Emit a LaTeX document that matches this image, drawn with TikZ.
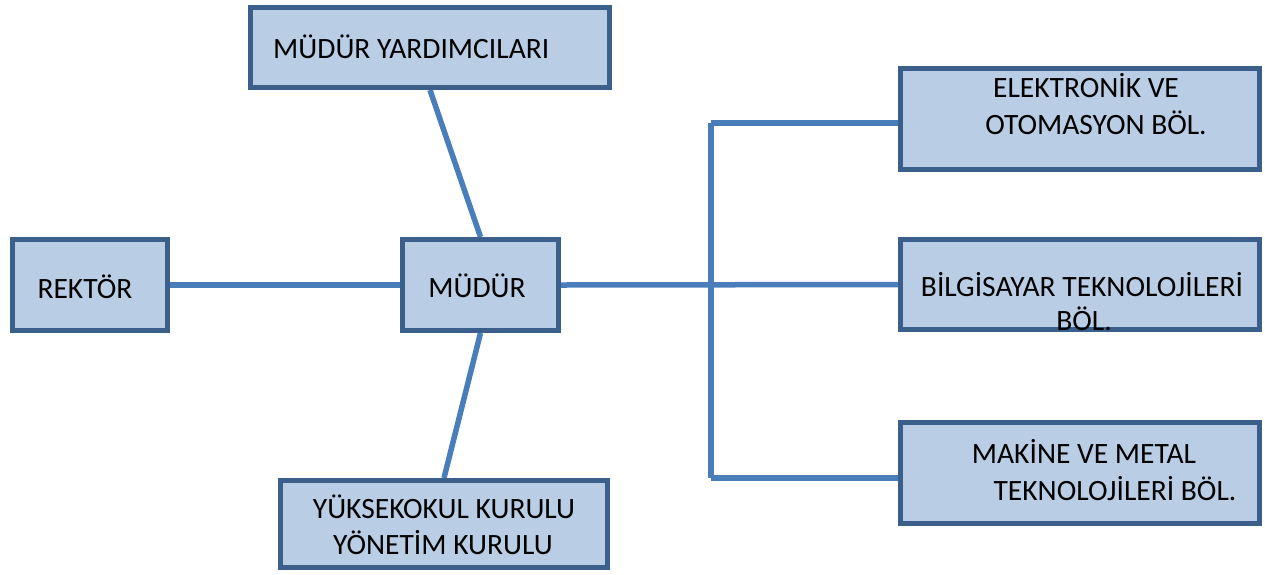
\documentclass[tikz,border=0pt]{standalone}
\usepackage{fontspec}
\setmainfont{Carlito}
\usetikzlibrary{backgrounds}
\definecolor{boxfill}{HTML}{B9CDE5}
\definecolor{boxline}{HTML}{3A5F8B}
\definecolor{conn}{HTML}{4A7EBB}
\begin{document}
\begin{tikzpicture}[x=1pt,y=-1pt,
  orgbox/.style={draw=boxline,fill=boxfill,line width=5pt,rectangle,inner sep=0pt},
  lbl/.style={inner sep=0pt,font=\fontsize{29.5}{35}\selectfont,anchor=base},
  link/.style={draw=conn,line width=5.5pt}]
\useasboundingbox (0,0) rectangle (1265,574);
% boxes
\node[orgbox,minimum width=359pt,minimum height=80pt] (my) at (430,47.5) {};
\node[orgbox,minimum width=155pt,minimum height=91pt] (rek) at (90,285) {};
\node[orgbox,minimum width=156pt,minimum height=91pt] (md) at (480.5,285) {};
\node[orgbox,minimum width=327pt,minimum height=87pt] (yk) at (444,524) {};
\node[orgbox,minimum width=359pt,minimum height=101pt] (el) at (1080,119) {};
\node[orgbox,minimum width=359pt,minimum height=90pt] (bi) at (1080,284.5) {};
\node[orgbox,minimum width=359pt,minimum height=101pt] (ma) at (1080,473) {};
% texts
\node[lbl,anchor=base west] (tmy) at (273,58) {MÜDÜR YARDIMCILARI};
\node[lbl] (trek) at (85,298) {REKTÖR};
\node[lbl] (tmd) at (477,297) {MÜDÜR};
\node[lbl] (tel1) at (1086,97) {ELEKTRONİK VE};
\node[lbl] (tel2) at (1096,134) {OTOMASYON BÖL.};
\node[lbl] (tbi1) at (1082,296) {BİLGİSAYAR TEKNOLOJİLERİ};
\node[lbl] (tbi2) at (1084,330) {BÖL.};
\node[lbl] (tma1) at (1084,463) {MAKİNE VE METAL};
\node[lbl] (tma2) at (1115,500) {TEKNOLOJİLERİ BÖL.};
\node[lbl] (tyk1) at (444,518) {YÜKSEKOKUL KURULU};
\node[lbl] (tyk2) at (443,554) {YÖNETİM KURULU};
% bus coordinates
\coordinate (bt) at (711,123);
\coordinate (bb) at (711,478);
\begin{pgfonlayer}{background}
\draw[link] (rek.east) -- (md.west);
\draw[link] (my.south) -- (md.north);
\draw[link] (md.south) -- (yk.north);
\draw[link] (md.east) -- (bi.west);
\draw[link] (bt) -- (bb);
\draw[link] (bt) -- (bt -| el.west);
\draw[link] (bb) -- (bb -| ma.west);
\end{pgfonlayer}
\end{tikzpicture}
\end{document}
